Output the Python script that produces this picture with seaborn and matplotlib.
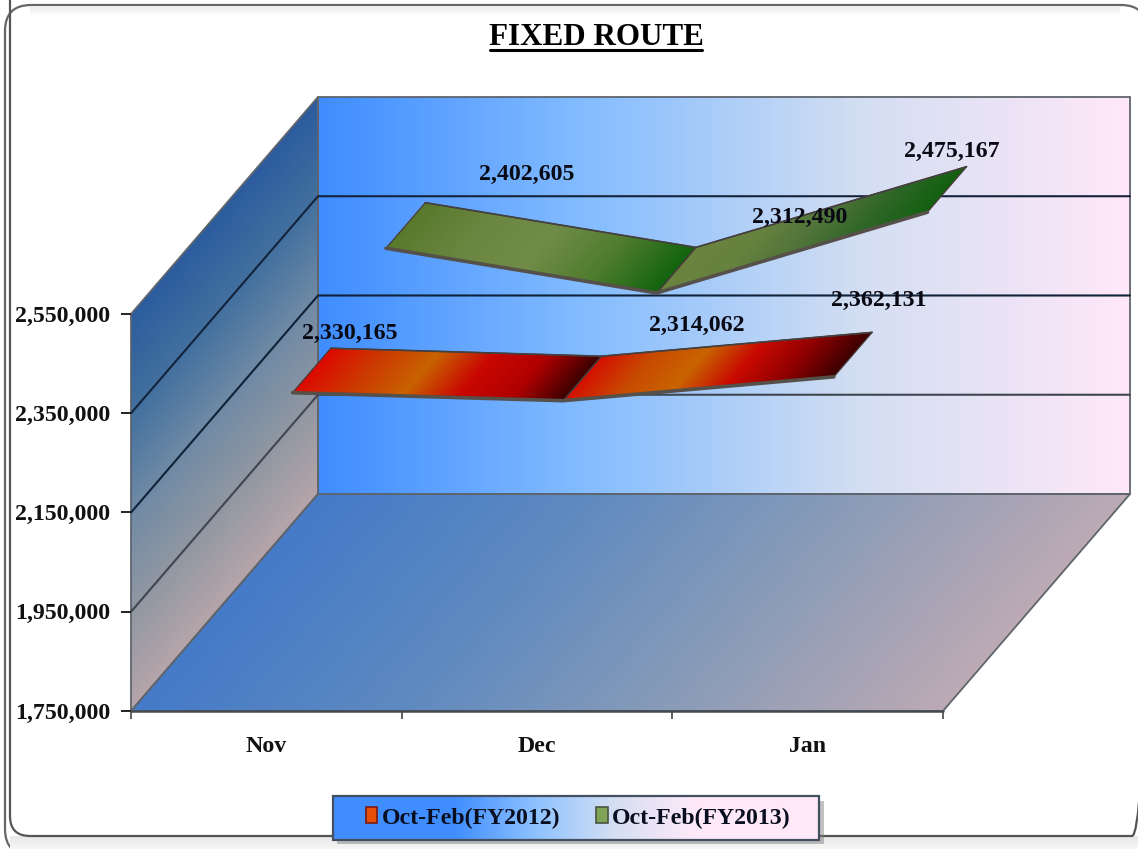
import numpy as np
import pandas as pd
import seaborn as sns
import matplotlib.pyplot as plt
from matplotlib.patches import Polygon, Rectangle, FancyBboxPatch, Patch

months = ["Nov", "Dec", "Jan"]
fy2012 = [2330165, 2314062, 2362131]
fy2013 = [2402605, 2312490, 2475167]
series_names = ["Oct-Feb(FY2012)", "Oct-Feb(FY2013)"]
y_ticks = [1750000, 1950000, 2150000, 2350000, 2550000]

SERIF = ["Liberation Serif", "DejaVu Serif"]
W, H = 1138, 849

# one step along the chart depth, in category and value units
DEPTH_X = 187 / 270.67
DEPTH_Y = 217 * 2015
SLANT = DEPTH_X / DEPTH_Y
Y_MIN, Y_MAX = y_ticks[0], y_ticks[-1]
X_MIN, X_MAX = -0.5, 2.5

sns.set_theme(style="white")
plt.rcParams["font.family"] = SERIF
plt.rcParams["font.weight"] = "bold"


def project(cat, value, depth=0.0):
    return cat + DEPTH_X * depth, value + DEPTH_Y * depth


def gradient_fill(ax, corners, colors, slant=0.0, zorder=1):
    # fills a polygon with a linear gradient, clipped to the polygon
    corners = np.array(corners, dtype=float)
    x0, y0 = corners.min(axis=0)
    x1, y1 = corners.max(axis=0)
    xx, yy = np.meshgrid(np.linspace(x0, x1, 400), np.linspace(y0, y1, 200))
    t = xx - slant * yy
    ends = corners[:, 0] - slant * corners[:, 1]
    t = (t - ends.min()) / (ends.max() - ends.min())
    cmap = sns.blend_palette(colors, as_cmap=True)
    im = ax.imshow(t, extent=(x0, x1, y0, y1), origin="lower", aspect="auto",
                   cmap=cmap, vmin=0, vmax=1, zorder=zorder, interpolation="bilinear")
    im.set_clip_path(Polygon(corners, transform=ax.transData))
    return im


fig = plt.figure(figsize=(W / 100, H / 100), dpi=100)

# page furniture, in pixels
bg = fig.add_axes([0, 0, 1, 1])
bg.axis("off")
bg.add_patch(FancyBboxPatch((5, 5), 1142, 850, boxstyle="round,pad=0,rounding_size=26",
                            fc="white", ec="#666666", lw=1.6, zorder=1))
bg.imshow(np.linspace(0, 1, 20).reshape(-1, 1), extent=(10, W, H, 836), aspect="auto",
          cmap=sns.blend_palette(["#e8e8e8", "#f6f6f6"], as_cmap=True), zorder=1.2)
bg.imshow(np.linspace(0, 1, 10).reshape(-1, 1), extent=(30, 1120, 17, 7), aspect="auto",
          cmap=sns.blend_palette(["#eeeeee", "#ffffff"], as_cmap=True), zorder=1.5)
bg.add_patch(FancyBboxPatch((10, -60), 1142, 896, boxstyle="round,pad=0,rounding_size=20",
                            fc="none", ec="#555555", lw=1.6, zorder=2))

bg.add_patch(Rectangle((337, 801), 487, 43, fc="#777777", ec="none", alpha=0.45, zorder=3))
bg.imshow(np.array([[0, 1]]), extent=(333, 819, 840, 796), aspect="auto", zorder=4,
          cmap=sns.blend_palette(["#3f8dff", "#8cc1ff", "#d5dff2", "#ffe9f9"], as_cmap=True),
          interpolation="bilinear")
bg.add_patch(Rectangle((333, 796), 486, 44, fc="none", ec="#44505f", lw=1.6, zorder=5))
bg.set_xlim(0, W)
bg.set_ylim(H, 0)

bg.text(596, 45, "FIXED ROUTE", ha="center", va="baseline", fontsize=22.4,
        fontweight="bold", color="black", zorder=6)
bg.plot([490, 702], [50, 50], color="black", lw=2.2, zorder=6)

# chart, on real category and value scales
ax = fig.add_axes([0, 0, 1, 1])
ax.patch.set_alpha(0)
xlim = ((0 - 266.33) / 270.67, (W - 266.33) / 270.67)
ylim = (Y_MIN - 138 * 2015, Y_MIN + 711 * 2015)

back_wall = [project(X_MIN, Y_MIN, 1), project(X_MAX, Y_MIN, 1),
             project(X_MAX, Y_MAX, 1), project(X_MIN, Y_MAX, 1)]
side_wall = [project(X_MIN, Y_MIN, 0), project(X_MIN, Y_MIN, 1),
             project(X_MIN, Y_MAX, 1), project(X_MIN, Y_MAX, 0)]
floor = [project(X_MIN, Y_MIN, 0), project(X_MAX, Y_MIN, 0),
         project(X_MAX, Y_MIN, 1), project(X_MIN, Y_MIN, 1)]

gradient_fill(ax, back_wall, ["#3f8dff", "#85bdff", "#d3def2", "#ffe8f9"], zorder=1)
gradient_fill(ax, side_wall, ["#2c5c9e", "#42709f", "#6f8aa5", "#9097a2", "#b5a5aa"],
              slant=SLANT, zorder=1)
gradient_fill(ax, floor, ["#447ac8", "#5f8ac0", "#8a9cb8", "#bcaab4"], slant=SLANT, zorder=1)

for wall in (back_wall, side_wall, floor):
    ax.add_patch(Polygon(wall, fc="none", ec="#5f656d", lw=1.3, zorder=2))

line_colors = ["#3f4650", "#0f2238", "#14233a"]
for level, line_color in zip(y_ticks[1:-1], line_colors):
    start = project(X_MIN, level, 0)
    corner = project(X_MIN, level, 1)
    end = project(X_MAX, level, 1)
    ax.plot([start[0], corner[0], end[0]], [start[1], corner[1], end[1]],
            color=line_color, lw=1.5, zorder=3)

ax.plot([X_MIN, X_MAX], [Y_MIN, Y_MIN], color="#444a52", lw=1.8, zorder=3)

# ticks and their labels
ax.plot([X_MIN] * len(y_ticks), y_ticks, ls="", marker=0, ms=7, mew=1.4, color="#222222", zorder=4)
edges = np.arange(len(months) + 1) - 0.5
ax.plot(edges, [Y_MIN] * len(edges), ls="", marker=3, ms=6, mew=1.2, color="#444444", zorder=4)
for v in y_ticks:
    ax.annotate(f"{v:,}", (X_MIN, v), xytext=(-21 * 0.72, -2 * 0.72), textcoords="offset points",
                ha="right", va="center", fontsize=17.2, fontweight="bold", color="#111111")
for i, m in enumerate(months):
    ax.annotate(m, (i, Y_MIN), xytext=(0, -36 * 0.72), textcoords="offset points",
                ha="center", va="center", fontsize=17.2, fontweight="bold", color="#111111")

# ribbons
front_depth = {series_names[0]: 0.14, series_names[1]: 0.64}
back_depth = {series_names[0]: 0.345, series_names[1]: 0.85}
series_values = {series_names[0]: fy2012, series_names[1]: fy2013}
segment_colors = {
    series_names[0]: [["#dc0a00", "#cc3a00", "#c86200", "#c90800", "#b00000", "#3a0000"],
                      ["#d41000", "#c84a00", "#c86400", "#c90a00", "#900000", "#3c0000"]],
    series_names[1]: [["#587a2c", "#6a8640", "#708c48", "#4f7c2e", "#12640f"],
                      ["#6b8440", "#66823e", "#50743a", "#2f6628", "#12600f"]],
}

rows = []
for name in series_names:
    for i, value in enumerate(series_values[name]):
        fx, fy = project(i, value, front_depth[name])
        bx, by = project(i, value, back_depth[name])
        rows.append({"series": name, "i": i, "fx": fx, "fy": fy, "bx": bx, "by": by})
ribbons = pd.DataFrame(rows)

for name in series_names:
    r = ribbons[ribbons["series"] == name].reset_index(drop=True)
    for i in range(len(r) - 1):
        corners = [(r.fx[i], r.fy[i]), (r.fx[i + 1], r.fy[i + 1]),
                   (r.bx[i + 1], r.by[i + 1]), (r.bx[i], r.by[i])]
        gradient_fill(ax, corners, segment_colors[name][i], slant=SLANT, zorder=5)
        ax.add_patch(Polygon(corners, fc="none", ec="#4a3a3a", lw=0.9, zorder=6))
    sns.lineplot(data=r, x="fx", y="fy", sort=False, estimator=None, ax=ax,
                 color="#55504a", lw=2.6, zorder=6, legend=False)
    sns.lineplot(data=r, x="bx", y="by", sort=False, estimator=None, ax=ax,
                 color="#444040", lw=1.2, zorder=6, legend=False)

# value labels, anchored on the back edge of each ribbon
label_offsets = {series_names[0]: [(19, 15), (95, 31), (7, 32)],
                 series_names[1]: [(101, 28), (104, 30), (-15, 15)]}
for name in series_names:
    r = ribbons[ribbons["series"] == name].reset_index(drop=True)
    for i, value in enumerate(series_values[name]):
        dx, dy = label_offsets[name][i]
        ax.annotate(f"{value:,}", (r.bx[i], r.by[i]), xytext=(dx * 0.72, dy * 0.72),
                    textcoords="offset points", ha="center", va="center",
                    fontsize=17.2, fontweight="bold", color="#0a0a14", zorder=8)

handles = [Patch(fc="#e8500a", ec="#7a1a10", lw=1.2), Patch(fc="#7fa455", ec="#4a5540", lw=1.2)]
ax.legend(handles, series_names, ncol=2, frameon=False, loc="center",
          bbox_to_anchor=(578.5, 818), bbox_transform=bg.transData,
          prop={"family": SERIF, "weight": "bold", "size": 17.2},
          handlelength=0.47, handleheight=0.62, handletextpad=0.2, columnspacing=1.5,
          labelcolor="#0a0f20")

ax.set_xlim(xlim)
ax.set_ylim(ylim)
ax.set_xlabel("")
ax.set_ylabel("")
ax.set_xticks([])
ax.set_yticks([])
sns.despine(ax=ax, left=True, bottom=True)

fig.savefig("out.png", dpi=100)
